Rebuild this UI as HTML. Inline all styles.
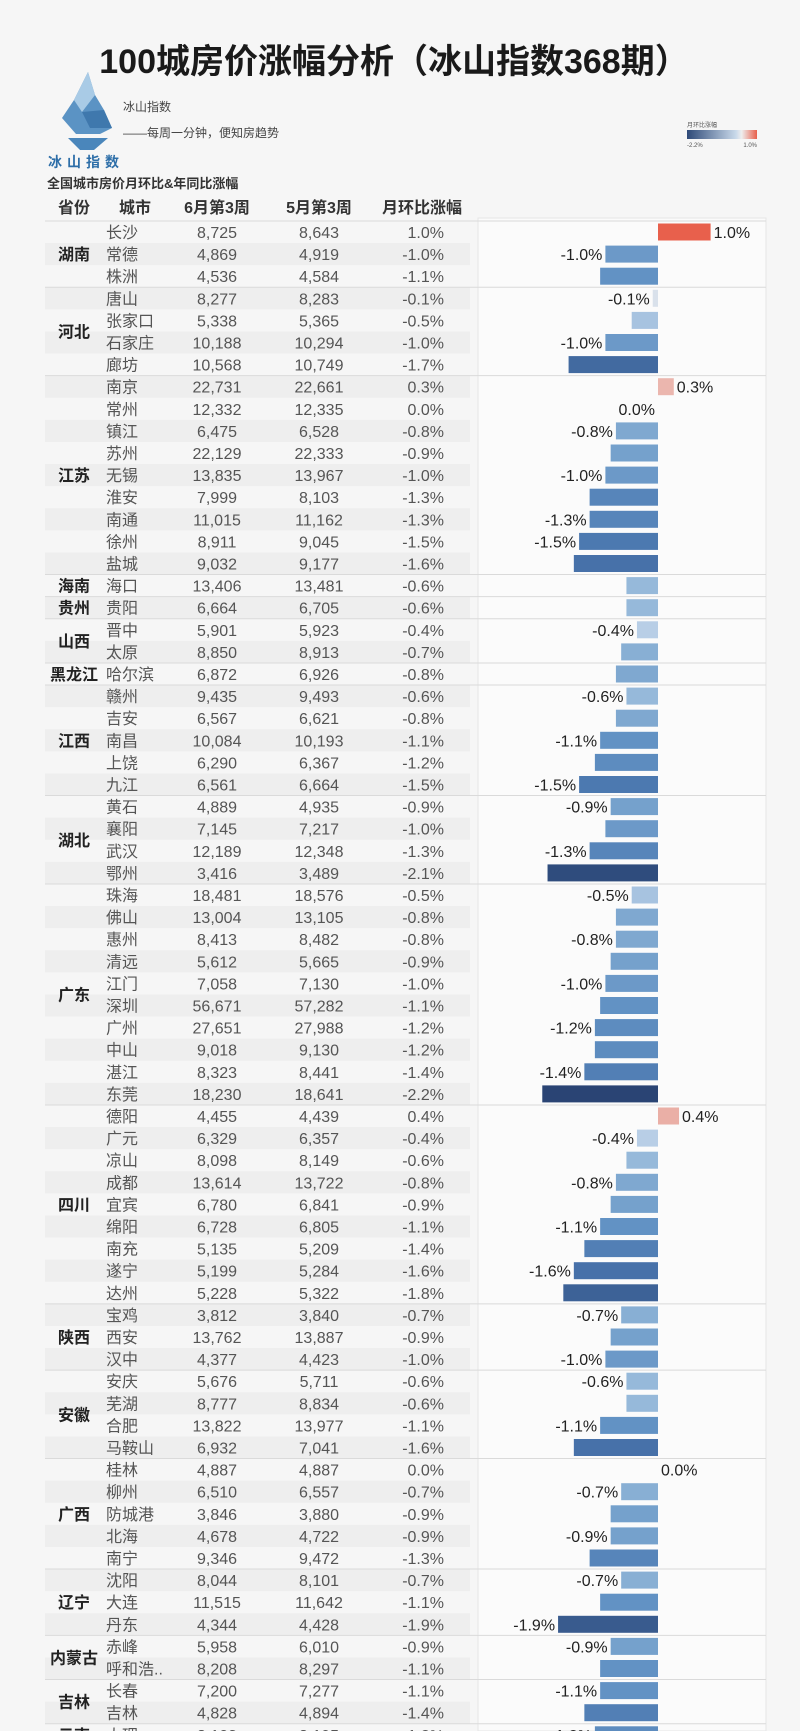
<!DOCTYPE html>
<html><head><meta charset="utf-8">
<style>
html,body{margin:0;padding:0;background:#f6f6f6;}
svg{display:block;font-family:"Liberation Sans","Noto Sans CJK SC",sans-serif;}
</style></head>
<body>
<svg id="c" width="800" height="1731" viewBox="0 0 800 1731" xmlns="http://www.w3.org/2000/svg">
<rect x="0" y="0" width="800" height="1731" fill="#f6f6f6"/>
<text x="394" y="73" text-anchor="middle" font-size="34" font-weight="bold" fill="#1a1a1a">100城房价涨幅分析（冰山指数368期）</text>
<g>
<polygon points="88,72 95,95 104,110 112,128 100,134 76,134 62,118 74,100" fill="#5b93c4"/>
<polygon points="88,72 95,95 82,112 74,100" fill="#a9cbe6"/>
<polygon points="82,112 104,110 112,128 90,128" fill="#3f78ad"/>
<polygon points="68,138 108,138 94,150 80,150" fill="#4a86bb"/>
<text x="86" y="167" text-anchor="middle" font-size="14" font-weight="bold" fill="#2d6ea8" letter-spacing="5">冰山指数</text>
</g>
<text x="123" y="111" font-size="12" fill="#444">冰山指数</text>
<text x="123" y="137" font-size="12" fill="#444">——每周一分钟，便知房趋势</text>
<g>
<defs><linearGradient id="lg" x1="0" x2="1"><stop offset="0" stop-color="#2e4a78"/><stop offset="0.7" stop-color="#c9d9ea"/><stop offset="0.78" stop-color="#eeeeee"/><stop offset="1" stop-color="#e8604c"/></linearGradient></defs>
<text x="687" y="127" font-size="6" fill="#555">月环比涨幅</text>
<rect x="687" y="130" width="70" height="9" fill="url(#lg)"/>
<text x="687" y="147" font-size="6" fill="#555">-2.2%</text>
<text x="757" y="147" font-size="6" fill="#555" text-anchor="end">1.0%</text>
</g>
<text x="47" y="188" font-size="13" font-weight="bold" fill="#333">全国城市房价月环比&amp;年同比涨幅</text>
<rect x="478" y="218" width="288" height="1513" fill="#fbfbfb" stroke="#e6e6e6"/>
<g id="hdr" font-size="16" font-weight="bold" fill="#333" text-anchor="middle">
<text x="74" y="213">省份</text>
<text x="135" y="213">城市</text>
<text x="217" y="213">6月第3周</text>
<text x="319" y="213">5月第3周</text>
<text x="422" y="213">月环比涨幅</text>
</g>
<g id="rows"></g>
</svg>
<script>
const provinces=["湖南","河北","江苏","海南","贵州","山西","黑龙江","江西","湖北","广东","四川","陕西","安徽","广西","辽宁","内蒙古","吉林","云南"];
const provinceCounts=[3,4,9,1,1,2,1,5,4,10,9,3,4,5,3,2,2,1];
const cities=["长沙","常德","株洲","唐山","张家口","石家庄","廊坊","南京","常州","镇江","苏州","无锡","淮安","南通","徐州","盐城","海口","贵阳","晋中","太原","哈尔滨","赣州","吉安","南昌","上饶","九江","黄石","襄阳","武汉","鄂州","珠海","佛山","惠州","清远","江门","深圳","广州","中山","湛江","东莞","德阳","广元","凉山","成都","宜宾","绵阳","南充","遂宁","达州","宝鸡","西安","汉中","安庆","芜湖","合肥","马鞍山","桂林","柳州","防城港","北海","南宁","沈阳","大连","丹东","赤峰","呼和浩..","长春","吉林","大理"];
const june=[8725,4869,4536,8277,5338,10188,10568,22731,12332,6475,22129,13835,7999,11015,8911,9032,13406,6664,5901,8850,6872,9435,6567,10084,6290,6561,4889,7145,12189,3416,18481,13004,8413,5612,7058,56671,27651,9018,8323,18230,4455,6329,8098,13614,6780,6728,5135,5199,5228,3812,13762,4377,5676,8777,13822,6932,4887,6510,3846,4678,9346,8044,11515,4344,5958,8208,7200,4828,8103];
const may=[8643,4919,4584,8283,5365,10294,10749,22661,12335,6528,22333,13967,8103,11162,9045,9177,13481,6705,5923,8913,6926,9493,6621,10193,6367,6664,4935,7217,12348,3489,18576,13105,8482,5665,7130,57282,27988,9130,8441,18641,4439,6357,8149,13722,6841,6805,5209,5284,5322,3840,13887,4423,5711,8834,13977,7041,4887,6557,3880,4722,9472,8101,11642,4428,6010,8297,7277,4894,8195];
const mom=[1.0,-1.0,-1.1,-0.1,-0.5,-1.0,-1.7,0.3,0.0,-0.8,-0.9,-1.0,-1.3,-1.3,-1.5,-1.6,-0.6,-0.6,-0.4,-0.7,-0.8,-0.6,-0.8,-1.1,-1.2,-1.5,-0.9,-1.0,-1.3,-2.1,-0.5,-0.8,-0.8,-0.9,-1.0,-1.1,-1.2,-1.2,-1.4,-2.2,0.4,-0.4,-0.6,-0.8,-0.9,-1.1,-1.4,-1.6,-1.8,-0.7,-0.9,-1.0,-0.6,-0.6,-1.1,-1.6,0.0,-0.7,-0.9,-0.9,-1.3,-0.7,-1.1,-1.9,-0.9,-1.1,-1.1,-1.4,-1.2];
const labelSide=["R","L","","L","","L","","R","L","L","","L","","L","L","","","","L","","","L","","L","","L","L","","L","","L","","L","","L","","L","","L","","R","L","","L","","L","","L","","L","","L","L","","L","","R","L","","L","","L","","L","L","","L","","L"];

const NS="http://www.w3.org/2000/svg";
const g=document.getElementById('rows');
const y0=232,rh=22.1,zeroX=658,pxPerPct=52.6;
function yPos(i){return y0+rh*i;}
function xPos(v){return zeroX+v*pxPerPct;}
function fmt(n){return n.toLocaleString('en-US');}
function lerp(a,b,t){return a.map((c,k)=>Math.round(c+(b[k]-c)*t));}
function color(v){
  if(v>=0){const t=Math.min(v/1.0,1);return 'rgb('+lerp([236,228,226],[232,96,76],Math.max(t,0.35)).join(',')+')';}
  const t=Math.min(-v/2.2,1);
  const s=[[0,[226,230,236]],[0.15,[196,214,234]],[0.3,[140,178,214]],[0.5,[98,146,196]],[0.7,[74,118,174]],[1,[42,68,116]]];
  for(let k=1;k<s.length;k++){if(t<=s[k][0]){const a=s[k-1],b=s[k];return 'rgb('+lerp(a[1],b[1],(t-a[0])/(b[0]-a[0])).join(',')+')';}}
  return 'rgb(42,68,116)';
}
function mk(tag,attrs,txt){const e=document.createElementNS(NS,tag);for(const k in attrs)e.setAttribute(k,attrs[k]);if(txt!==undefined)e.textContent=txt;g.appendChild(e);return e;}

for(let i=0;i<cities.length;i++){
  if(i%2===1){
    const s=mk('rect',{x:45,y:yPos(i)-rh/2,width:425,height:rh,fill:'#eeeeee'});
    
    
  }
}
let start=0;
for(let p=0;p<provinces.length;p++){
  const n=provinceCounts[p];
  const top=yPos(start)-rh/2;
  const ln=mk('line',{x1:45,x2:766,y1:top,y2:top,stroke:'#dadada','stroke-width':1});
  
  
  const cy=yPos(start+(n-1)/2)+6;
  const t=mk('text',{x:74,y:cy,'text-anchor':'middle','font-size':16,'font-weight':'bold',fill:'#222'},provinces[p]);
  
  
  start+=n;
}
for(let i=0;i<cities.length;i++){
  const y=yPos(i)+6;
  const c=mk('text',{x:106,y:y,'font-size':16,fill:'#555'},cities[i]);
  
  
  const a=mk('text',{x:217,y:y,'font-size':16,fill:'#555','text-anchor':'middle'},fmt(june[i]));
  
  
  const b=mk('text',{x:319,y:y,'font-size':16,fill:'#555','text-anchor':'middle'},fmt(may[i]));
  
  
  const m=mk('text',{x:444,y:y,'font-size':16,fill:'#555','text-anchor':'end'},mom[i].toFixed(1)+'%');
  
  
  const v=mom[i];
  const x1=Math.min(xPos(v),zeroX),w=Math.abs(xPos(v)-zeroX);
  const bar=mk('rect',{x:x1,y:yPos(i)-8.5,width:Math.max(w,v===0?0:2),height:17,fill:color(v)});
  
  
  const side=labelSide[i];
  if(side){
    const lx=side==='L'?Math.min(xPos(v),zeroX)-3:Math.max(xPos(v),zeroX)+3;
    const lt=mk('text',{x:lx,y:y,'font-size':16,fill:'#222','text-anchor':side==='L'?'end':'start'},v.toFixed(1)+'%');
    
    
  }
}
</script>
</body></html>
